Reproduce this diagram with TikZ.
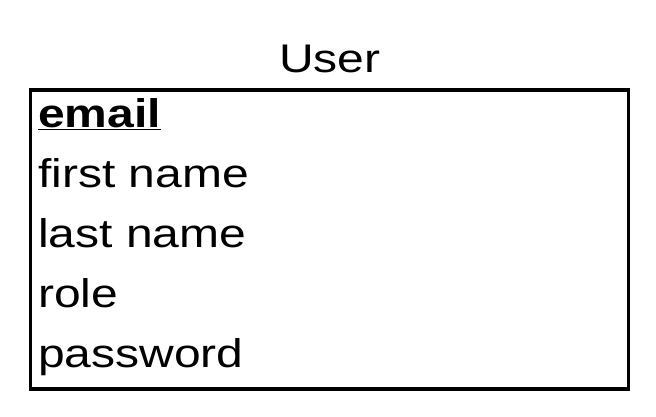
\documentclass[tikz,border=0pt]{standalone}
\usepackage{fontspec}
\setmainfont{Liberation Sans}
\tikzset{
  attr/.style={anchor=base west, inner sep=0pt, xscale=1.2, transform shape,
    font=\fontsize{40}{48}\selectfont},
  entity/.style={draw, line width=3.6pt, minimum width=598pt, minimum height=299pt, inner sep=0pt}
}
\begin{document}
\begin{tikzpicture}[x=1pt,y=-1pt]
    \useasboundingbox (0,0) rectangle (656,416);
    \node[entity] (user) at (329.3,239.3) {};
    \node[attr, anchor=base] (title) at (330,72) {User};

%    attributes, one per line
    \node[attr] (email) at (38,127) {\textbf{\underline{email}}};
    \node[attr] (first) at (38,187) {first name};
    \node[attr] (last) at (38,247) {last name};
    \node[attr] (role) at (38,307) {role};
    \node[attr] (password) at (38,367) {password};
\end{tikzpicture}
\end{document}
